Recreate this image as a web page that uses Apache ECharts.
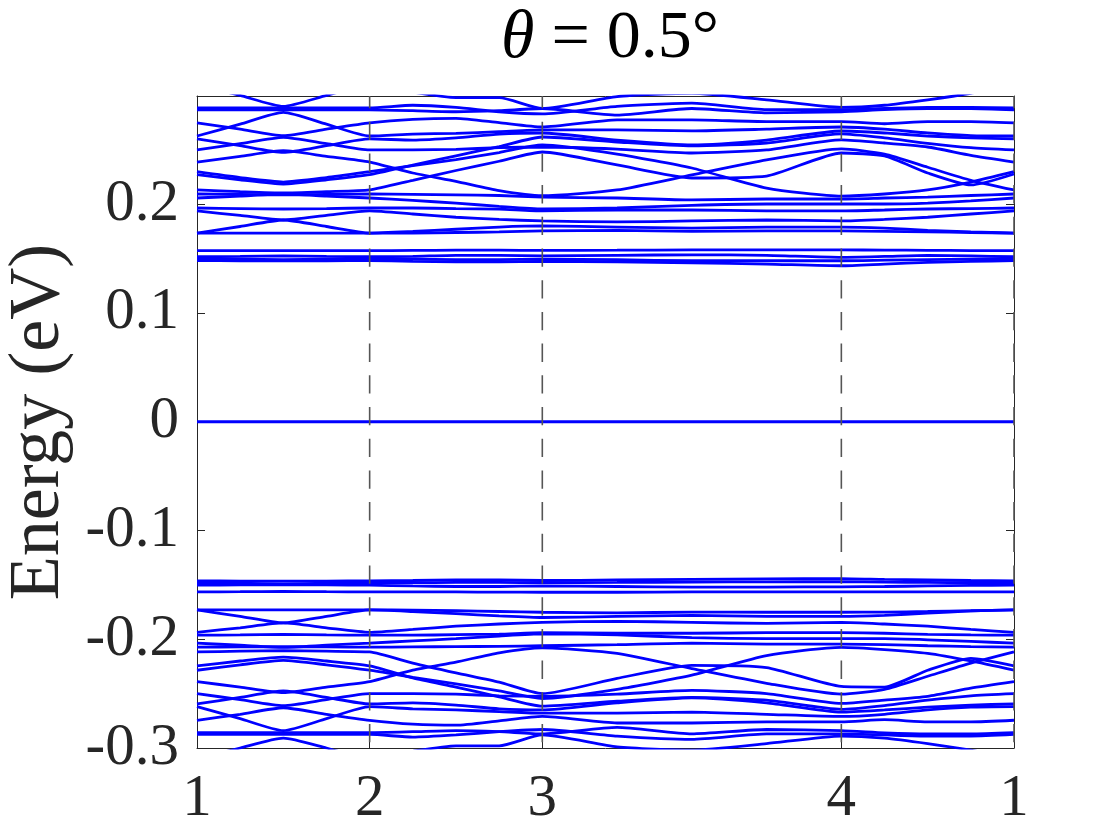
<!DOCTYPE html>
<html>
<head>
<meta charset="utf-8">
<script src="https://cdn.jsdelivr.net/npm/echarts@6/dist/echarts.min.js"></script>
<style>html,body{margin:0;padding:0;background:#fff}#c{width:1120px;height:840px}</style>
</head>
<body>
<div id="c"></div>
<script>
// k-path node positions (segments 1-2, 2-3, 3-4 (length sqrt3), 4-1)
const kNodes = [0, 0.25, 0.5, 0.75, 1, 1.25, 1.5, 1.75, 2, 2.433, 2.866, 3.299, 3.732, 3.982, 4.232, 4.482, 4.732];
const kTicks = [0, 1, 2, 3.732, 4.732];
const kTickLabels = ['1', '2', '3', '4', '1'];
const yMin = -0.3, yMax = 0.2995, yStep = 0.1;

// upper bands (eV)
const bandA  = [0.310, 0.300, 0.290, 0.300, 0.310, 0.303, 0.298, 0.298, 0.288, 0.299, 0.302, 0.296, 0.289, 0.291, 0.296, 0.302, 0.310];
const bandB1 = [0.2885, 0.2885, 0.2885, 0.2885, 0.2885, 0.291, 0.289, 0.285, 0.283, 0.290, 0.293, 0.287, 0.287, 0.288, 0.289, 0.289, 0.2885];
const bandB2 = [0.2867, 0.2867, 0.2867, 0.2867, 0.2867, 0.286, 0.285, 0.286, 0.288, 0.282, 0.288, 0.284, 0.285, 0.287, 0.288, 0.288, 0.2867];
const bandD  = [0.2748, 0.269, 0.263, 0.269, 0.2748, 0.278, 0.279, 0.275, 0.271, 0.2775, 0.2775, 0.276, 0.276, 0.274, 0.276, 0.276, 0.2748];
const bandC  = [0.2627, 0.2736, 0.2845, 0.2736, 0.2627, 0.2645, 0.2652, 0.2667, 0.2683, 0.2683, 0.2674, 0.269, 0.271, 0.269, 0.2655, 0.263, 0.2627];
const bandE  = [0.2600, 0.2539, 0.2477, 0.2539, 0.2600, 0.259, 0.261, 0.2645, 0.2655, 0.259, 0.2545, 0.259, 0.2673, 0.2655, 0.2627, 0.261, 0.2600];
const bandF  = [0.2499, 0.2557, 0.2615, 0.2557, 0.2499, 0.250, 0.2505, 0.252, 0.2526, 0.2507, 0.2471, 0.2499, 0.2591, 0.2563, 0.2526, 0.245, 0.2388];
const bandG  = [0.2388, 0.2440, 0.2492, 0.2440, 0.2388, 0.2287, 0.221, 0.2124, 0.2078, 0.2131, 0.2269, 0.2407, 0.2508, 0.246, 0.234, 0.222, 0.2131];
const bandH1 = [0.2299, 0.2245, 0.2204, 0.2245, 0.2299, 0.2355, 0.2411, 0.2475, 0.2545, 0.2461, 0.2333, 0.2149, 0.2075, 0.2094, 0.2131, 0.2204, 0.2299];
const bandH2 = [0.2272, 0.2225, 0.2186, 0.2225, 0.2272, 0.236, 0.2445, 0.253, 0.2618, 0.2572, 0.2536, 0.2563, 0.2646, 0.261, 0.256, 0.252, 0.2499];
const bandI1 = [0.2131, 0.2115, 0.2103, 0.2115, 0.2131, 0.222, 0.231, 0.2395, 0.248, 0.2361, 0.2241, 0.2259, 0.2471, 0.2444, 0.2287, 0.2177, 0.2278];
const bandI2 = [0.2094, 0.2090, 0.2085, 0.2090, 0.2094, 0.209, 0.2085, 0.208, 0.2066, 0.2057, 0.2039, 0.2048, 0.2048, 0.2057, 0.2066, 0.208, 0.2094];
const bandI3 = [0.2057, 0.2075, 0.2093, 0.2075, 0.2057, 0.2035, 0.201, 0.198, 0.1956, 0.1965, 0.199, 0.2002, 0.2002, 0.2002, 0.2010, 0.2030, 0.2057];
const bandJ1 = [0.1965, 0.1960, 0.1956, 0.1960, 0.1965, 0.1965, 0.196, 0.1955, 0.1938, 0.1947, 0.1947, 0.1938, 0.1938, 0.1947, 0.1956, 0.196, 0.1965];
const bandJ2 = [0.1938, 0.1897, 0.1855, 0.1897, 0.1938, 0.191, 0.188, 0.186, 0.1846, 0.1837, 0.1846, 0.1855, 0.1846, 0.186, 0.188, 0.191, 0.1938];
const bandK1 = [0.1735, 0.1795, 0.1855, 0.1795, 0.1735, 0.175, 0.177, 0.179, 0.180, 0.179, 0.178, 0.179, 0.179, 0.178, 0.176, 0.1745, 0.1735];
const bandK2 = [0.1735, 0.1735, 0.1735, 0.1735, 0.1735, 0.1735, 0.174, 0.1745, 0.1754, 0.176, 0.175, 0.1754, 0.1754, 0.175, 0.1745, 0.174, 0.1735];
const flat1  = [0.1573, 0.1573, 0.1573, 0.1573, 0.1573, 0.1575, 0.1577, 0.1577, 0.1575, 0.1577, 0.158, 0.158, 0.158, 0.1578, 0.1576, 0.1574, 0.1573];
const flat2  = [0.1517, 0.152, 0.1525, 0.152, 0.1517, 0.152, 0.153, 0.153, 0.1525, 0.153, 0.1535, 0.153, 0.1512, 0.152, 0.153, 0.1525, 0.1517];
const flat3  = [0.1499, 0.1495, 0.149, 0.1495, 0.1499, 0.1495, 0.149, 0.149, 0.1495, 0.149, 0.148, 0.148, 0.148, 0.1485, 0.149, 0.1495, 0.1499];
const flat4  = [0.1481, 0.148, 0.148, 0.148, 0.1481, 0.1475, 0.147, 0.147, 0.1475, 0.147, 0.146, 0.145, 0.1434, 0.145, 0.1465, 0.1475, 0.1481];

// zero-energy flat band
const bandZero = [0, 0, 0, 0, 0, 0, 0, 0, 0, 0, 0, 0, 0, 0, 0, 0, 0];

// lower bands (eV)
const lowFlat1 = [-0.1464, -0.1465, -0.1466, -0.1465, -0.1464, -0.146, -0.1455, -0.1455, -0.146, -0.1455, -0.145, -0.1445, -0.1442, -0.145, -0.1455, -0.146, -0.1464];
const lowFlat2 = [-0.1482, -0.1485, -0.149, -0.1485, -0.1482, -0.148, -0.1478, -0.1478, -0.148, -0.1478, -0.1475, -0.1472, -0.1471, -0.1475, -0.1478, -0.148, -0.1482];
const lowFlat3 = [-0.1503, -0.150, -0.1498, -0.150, -0.1503, -0.151, -0.1515, -0.1515, -0.151, -0.1515, -0.152, -0.152, -0.1518, -0.1515, -0.151, -0.1505, -0.1503];
const lowFlat4 = [-0.1565, -0.1563, -0.156, -0.1563, -0.1565, -0.1565, -0.1565, -0.1567, -0.1568, -0.1568, -0.1565, -0.1565, -0.1565, -0.1565, -0.1565, -0.1565, -0.1565];
const lowK2 = [-0.1730, -0.1730, -0.1730, -0.1730, -0.1730, -0.1732, -0.1738, -0.1745, -0.1752, -0.1758, -0.1750, -0.1752, -0.1752, -0.1750, -0.1745, -0.1738, -0.1730];
const lowK1 = [-0.1730, -0.1790, -0.1850, -0.1790, -0.1730, -0.1745, -0.1765, -0.1785, -0.1800, -0.1790, -0.1780, -0.1790, -0.1790, -0.1780, -0.1760, -0.1740, -0.1730];
const lowJ2 = [-0.1936, -0.1895, -0.1850, -0.1895, -0.1936, -0.1910, -0.1880, -0.1860, -0.1845, -0.1835, -0.1845, -0.1855, -0.1845, -0.1860, -0.1880, -0.1910, -0.1936];
const lowJ1 = [-0.1963, -0.1960, -0.1956, -0.1960, -0.1963, -0.1963, -0.1958, -0.1953, -0.1940, -0.1945, -0.1945, -0.1940, -0.1940, -0.1945, -0.1955, -0.1960, -0.1963];
const lowI3 = [-0.2036, -0.2055, -0.2075, -0.2055, -0.2036, -0.2015, -0.1995, -0.1970, -0.1950, -0.1960, -0.1985, -0.1995, -0.1995, -0.1995, -0.2005, -0.2020, -0.2036];
const lowI2 = [-0.2073, -0.2070, -0.2068, -0.2070, -0.2073, -0.2070, -0.2068, -0.2065, -0.2060, -0.2050, -0.2035, -0.2045, -0.2045, -0.2050, -0.2060, -0.2068, -0.2073];
const lowI1 = [-0.2117, -0.2110, -0.2105, -0.2110, -0.2117, -0.2220, -0.2310, -0.2395, -0.2500, -0.2360, -0.2240, -0.2260, -0.2434, -0.2440, -0.2285, -0.2175, -0.2245];
const lowH2 = [-0.2245, -0.2200, -0.2165, -0.2200, -0.2245, -0.2355, -0.2440, -0.2530, -0.2615, -0.2570, -0.2535, -0.2560, -0.2645, -0.2610, -0.2560, -0.2520, -0.2500];
const lowH1 = [-0.2285, -0.2235, -0.2195, -0.2235, -0.2285, -0.2350, -0.2410, -0.2475, -0.2545, -0.2460, -0.2330, -0.2150, -0.2075, -0.2095, -0.2130, -0.2200, -0.2285];
const lowG  = [-0.2390, -0.2440, -0.2490, -0.2440, -0.2390, -0.2285, -0.2210, -0.2125, -0.2080, -0.2130, -0.2270, -0.2405, -0.2505, -0.2460, -0.2340, -0.2220, -0.2117];
const lowF  = [-0.2500, -0.2555, -0.2610, -0.2555, -0.2500, -0.2500, -0.2505, -0.2520, -0.2525, -0.2505, -0.2470, -0.2500, -0.2590, -0.2560, -0.2525, -0.2450, -0.2390];
const lowE  = [-0.2595, -0.2535, -0.2475, -0.2535, -0.2595, -0.2585, -0.2605, -0.2640, -0.2650, -0.2585, -0.2540, -0.2585, -0.2670, -0.2650, -0.2625, -0.2605, -0.2595];
const lowC  = [-0.2620, -0.2730, -0.2840, -0.2730, -0.2620, -0.2640, -0.2650, -0.2665, -0.2680, -0.2680, -0.2670, -0.2690, -0.2710, -0.2690, -0.2650, -0.2625, -0.2620];
const lowD  = [-0.2745, -0.2690, -0.2630, -0.2690, -0.2745, -0.2780, -0.2790, -0.2750, -0.2710, -0.2770, -0.2770, -0.2760, -0.2760, -0.2740, -0.2760, -0.2760, -0.2745];
const lowB2 = [-0.2858, -0.2858, -0.2858, -0.2858, -0.2858, -0.2850, -0.2840, -0.2850, -0.2870, -0.2810, -0.2870, -0.2830, -0.2840, -0.2860, -0.2870, -0.2870, -0.2858];
const lowB1 = [-0.2875, -0.2875, -0.2875, -0.2875, -0.2875, -0.2900, -0.2880, -0.2850, -0.2830, -0.2890, -0.2920, -0.2870, -0.2870, -0.2880, -0.2890, -0.2890, -0.2875];
const lowA  = [-0.310, -0.300, -0.291, -0.300, -0.310, -0.303, -0.298, -0.298, -0.288, -0.299, -0.302, -0.296, -0.289, -0.291, -0.296, -0.302, -0.310];

const bands = [bandA, bandB1, bandB2, bandD, bandC, bandE, bandF, bandG, bandH1, bandH2, bandI1, bandI2, bandI3,
  bandJ1, bandJ2, bandK1, bandK2, flat1, flat2, flat3, flat4, bandZero,
  lowFlat1, lowFlat2, lowFlat3, lowFlat4, lowK2, lowK1, lowJ2, lowJ1, lowI3, lowI2, lowI1, lowH2, lowH1,
  lowG, lowF, lowE, lowC, lowD, lowB2, lowB1, lowA];

const FONT = 'Liberation Serif';
const AX = '#262626';

const series = bands.map(b => ({
  type: 'line',
  data: kNodes.map((k, i) => [k, b[i]]),
  showSymbol: false,
  smooth: 0.2,
  clip: true,
  lineStyle: { color: '#0000ff', width: 2.8 },
  z: 2,
  silent: true
}));

// dashed high-symmetry lines
kTicks.slice(1).forEach(k => {
  series.push({
    type: 'line',
    data: [[k, yMin], [k, yMax]],
    showSymbol: false,
    clip: true,
    lineStyle: { color: '#555555', width: 1.6, type: [18.3, 13.4], dashOffset: 26 },
    z: 3,
    silent: true
  });
});

const fmtK = v => {
  const i = kTicks.findIndex(t => Math.abs(t - v) < 1e-6);
  return i >= 0 ? kTickLabels[i] : '';
};

const chart = echarts.init(document.getElementById('c'), null, { renderer: 'canvas' });
chart.setOption({
  animation: false,
  backgroundColor: '#ffffff',
  title: {
    text: '{i|θ} = 0.5°',
    left: 605,
    textAlign: 'center',
    top: 0,
    textStyle: {
      fontFamily: FONT, fontSize: 68, fontWeight: 'normal', color: '#000',
      rich: { i: { fontFamily: FONT, fontSize: 68, fontStyle: 'italic', color: '#000' } }
    }
  },
  grid: { left: 197, right: 106, top: 96, bottom: 92, containLabel: false, outerBoundsMode: 'none' },
  xAxis: [
    {
      type: 'value', min: 0, max: 4.732, position: 'bottom',
      axisLine: { show: true, onZero: false, lineStyle: { color: AX, width: 1 } },
      axisTick: { show: true, inside: true, length: 8, customValues: kTicks, lineStyle: { color: AX } },
      axisLabel: { customValues: kTicks, formatter: fmtK, fontFamily: FONT, fontSize: 59, color: AX, margin: 22 },
      splitLine: { show: false }
    },
    {
      type: 'value', min: 0, max: 4.732, position: 'top',
      axisLine: { show: true, onZero: false, lineStyle: { color: AX, width: 1 } },
      axisTick: { show: true, inside: true, length: 8, customValues: kTicks, lineStyle: { color: AX } },
      axisLabel: { show: false },
      splitLine: { show: false }
    }
  ],
  yAxis: [
    {
      type: 'value', min: yMin, max: yMax, interval: yStep, position: 'left',
      name: 'Energy (eV)', nameLocation: 'middle', nameGap: 118,
      nameTextStyle: { fontFamily: FONT, fontSize: 72, color: AX },
      axisLine: { show: true, onZero: false, lineStyle: { color: AX, width: 1 } },
      axisTick: { show: true, inside: true, length: 8, lineStyle: { color: AX } },
      axisLabel: { fontFamily: FONT, fontSize: 59, color: AX, margin: 18, showMaxLabel: false },
      splitLine: { show: false }
    },
    {
      type: 'value', min: yMin, max: yMax, interval: yStep, position: 'right',
      axisLine: { show: true, onZero: false, lineStyle: { color: AX, width: 1 } },
      axisTick: { show: true, inside: true, length: 8, lineStyle: { color: AX } },
      axisLabel: { show: false },
      splitLine: { show: false }
    }
  ],
  series: series
});
</script>
</body>
</html>
